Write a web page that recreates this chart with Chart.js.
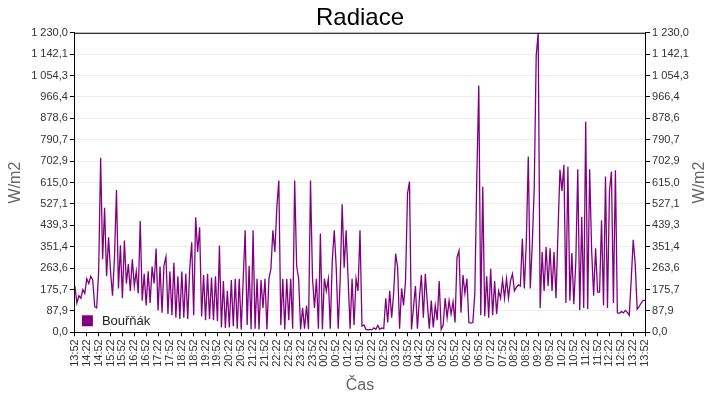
<!DOCTYPE html>
<html>
<head>
<meta charset="utf-8">
<script src="https://cdn.jsdelivr.net/npm/chart.js@4"></script>
<style>
  html, body { margin: 0; padding: 0; background: #fff; }
  #wrap { width: 720px; height: 400px; }
</style>
</head>
<body>
<div id="wrap"><canvas id="radiaceChart"></canvas></div>
<script>
// popisky casove osy (kazdych 30 minut)
const tickLabels = ['13:52','14:22','14:52','15:22','15:52','16:22','16:52','17:22','17:52','18:22',
  '18:52','19:22','19:52','20:22','20:52','21:22','21:52','22:22','22:52','23:22','23:52',
  '00:22','00:52','01:22','01:52','02:22','02:52','03:22','03:52','04:22','04:52','05:22',
  '05:52','06:22','06:52','07:22','07:52','08:22','08:52','09:22','09:52','10:22','10:52',
  '11:22','11:52','12:22','12:52','13:22','13:52'];

const yTickLabels = ['0,0','87,9','175,7','263,6','351,4','439,3','527,1','615,0','702,9',
  '790,7','878,6','966,4','1 054,3','1 142,1','1 230,0'];

const stepMinutes = 5;

// Bouřňák - radiace W/m2, odecteno z grafu po 5 minutach
const radiace = [
  190, 120, 150, 140, 175, 160, 220, 200, 230, 215,
  105, 100, 250, 717, 300, 511, 230, 390, 250, 150,
  310, 584, 180, 357, 140, 377, 200, 280, 170, 300,
  190, 250, 160, 457, 130, 240, 110, 250, 120, 270,
  200, 344, 90, 270, 80, 275, 310, 75, 250, 70,
  285, 60, 230, 55, 250, 60, 240, 55, 260, 370,
  70, 472, 330, 431, 65, 235, 50, 240, 55, 225,
  50, 230, 45, 356, 20, 210, 18, 170, 20, 215,
  25, 220, 15, 220, 12, 215, 419, 30, 273, 12,
  419, 15, 220, 12, 215, 100, 220, 12, 220, 260,
  419, 330, 515, 623, 30, 220, 12, 220, 50, 220,
  15, 623, 273, 220, 12, 100, 15, 110, 12, 623,
  225, 100, 220, 15, 406, 12, 220, 170, 220, 15,
  294, 419, 265, 15, 220, 526, 265, 419, 220, 15,
  220, 30, 220, 170, 419, 25, 30, 12, 10, 12,
  10, 18, 12, 28, 12, 18, 15, 140, 40, 170,
  60, 160, 323, 267, 15, 180, 110, 210, 570, 619,
  12, 100, 190, 15, 140, 235, 60, 240, 120, 15,
  130, 20, 110, 50, 210, 12, 30, 140, 60, 130,
  75, 125, 40, 308, 335, 80, 235, 160, 220, 40,
  38, 40, 160, 640, 1013, 70, 598, 66, 230, 60,
  261, 70, 210, 75, 170, 140, 215, 140, 220, 140,
  210, 240, 170, 185, 195, 190, 384, 180, 370, 722,
  180, 360, 593, 1137, 1230, 100, 330, 170, 350, 190,
  345, 170, 330, 140, 412, 668, 580, 688, 120, 680,
  130, 325, 115, 290, 670, 90, 474, 100, 865, 95,
  670, 336, 150, 345, 165, 165, 460, 110, 640, 100,
  580, 660, 120, 665, 80, 78, 85, 80, 90, 82,
  70, 218, 380, 282, 95, 105, 120, 131, 131
];

const yMax = 1230;
const fontName = '"Liberation Sans", Arial, sans-serif';

const points = radiace.map((v, i) => ({ x: i * stepMinutes, y: v }));

// ramecek kolem plochy grafu, legenda a pravy popisek osy
const extras = {
  id: 'extras',
  afterDatasetsDraw(chart) {
    const ctx = chart.ctx;
    const a = chart.chartArea;
    ctx.save();
    // legenda uvnitr grafu vlevo dole
    ctx.fillStyle = '#fff';
    ctx.fillRect(a.left + 1, a.bottom - 22, 76, 21);
    ctx.fillStyle = '#800080';
    ctx.fillRect(a.left + 7, a.bottom - 17, 11, 11);
    ctx.fillStyle = '#222';
    ctx.font = '13px ' + fontName;
    ctx.textBaseline = 'middle';
    ctx.textAlign = 'left';
    ctx.fillText('Bouřňák', a.left + 27, a.bottom - 11);
    // horni okraj
    ctx.strokeStyle = '#000';
    ctx.lineWidth = 1;
    ctx.beginPath();
    ctx.moveTo(a.left, a.top + 0.5);
    ctx.lineTo(a.right, a.top + 0.5);
    ctx.stroke();
    ctx.restore();
  },
  afterDraw(chart) {
    const ctx = chart.ctx;
    const a = chart.chartArea;
    const s = chart.scales.y2;
    ctx.save();
    ctx.translate(s.right - 14, (a.top + a.bottom) / 2);
    ctx.rotate(-Math.PI / 2);
    ctx.fillStyle = '#666';
    ctx.font = '16px ' + fontName;
    ctx.textAlign = 'center';
    ctx.textBaseline = 'middle';
    ctx.fillText('W/m2', 0, 0);
    ctx.restore();
  }
};

function setYTicks(scale) {
  scale.ticks = yTickLabels.map((t, i) => ({ value: i * yMax / (yTickLabels.length - 1) }));
}

function yTickText(value, index) {
  return yTickLabels[index];
}

const ctx = document.getElementById('radiaceChart').getContext('2d');
new Chart(ctx, {
  type: 'line',
  data: {
    datasets: [{
      label: 'Bouřňák',
      data: points,
      borderColor: '#800080',
      backgroundColor: '#800080',
      borderWidth: 1.3,
      pointRadius: 0,
      tension: 0,
      fill: false
    }]
  },
  options: {
    responsive: true,
    maintainAspectRatio: false,
    animation: false,
    layout: { padding: { left: 6, right: 6, top: 0, bottom: 5 } },
    plugins: {
      legend: { display: false },
      tooltip: { enabled: false },
      title: {
        display: true,
        text: 'Radiace',
        color: '#000',
        font: { family: fontName, size: 24, weight: 'normal' },
        padding: { top: 4, bottom: 0 }
      }
    },
    scales: {
      x: {
        type: 'linear',
        min: 0,
        max: (tickLabels.length - 1) * 30,
        grid: { drawOnChartArea: false, tickLength: 4, tickColor: '#000' },
        border: { color: '#000' },
        ticks: {
          stepSize: 30,
          autoSkip: false,
          maxRotation: 90,
          minRotation: 90,
          padding: 3,
          color: '#333',
          font: { family: fontName, size: 11 },
          callback: (value) => tickLabels[Math.round(value / 30)]
        },
        title: {
          display: true,
          text: 'Čas',
          color: '#666',
          font: { family: fontName, size: 16 },
          padding: { top: 6, bottom: 0 }
        }
      },
      y: {
        position: 'left',
        min: 0,
        max: yMax,
        afterBuildTicks: setYTicks,
        grid: { color: '#ececec', tickLength: 5, tickColor: '#000' },
        border: { color: '#000' },
        ticks: {
          padding: 2,
          color: '#333',
          font: { family: fontName, size: 11 },
          callback: yTickText
        },
        title: {
          display: true,
          text: 'W/m2',
          color: '#666',
          font: { family: fontName, size: 16 },
          padding: { top: 0, bottom: 4 }
        }
      },
      y2: {
        position: 'right',
        min: 0,
        max: yMax,
        afterBuildTicks: setYTicks,
        grid: { drawOnChartArea: false, tickLength: 5, tickColor: '#000' },
        border: { color: '#000' },
        ticks: {
          padding: 2,
          color: '#333',
          font: { family: fontName, size: 11 },
          callback: yTickText
        },
        title: {
          display: true,
          text: 'W/m2',
          color: 'rgba(0,0,0,0)',
          font: { family: fontName, size: 16 },
          padding: { top: 4, bottom: 0 }
        }
      }
    }
  },
  plugins: [extras]
});
</script>
</body>
</html>
